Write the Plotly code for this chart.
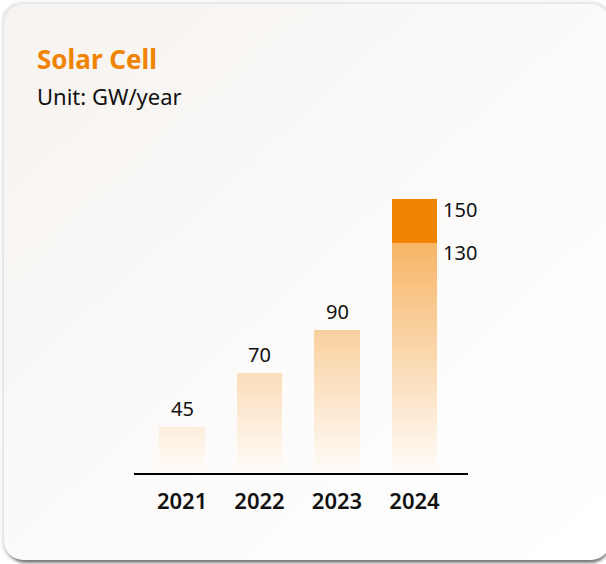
import base64
import plotly.graph_objects as go

# ---- data ----
years = ["2021", "2022", "2023", "2024"]
capacity = [45, 70, 90, 130]            # GW/year (gradient bars)
capacity_high = [None, None, None, 150]  # upper estimate for 2024
title_text = "Solar Cell"
unit_text = "Unit: GW/year"

# ---- styling ----
W, H = 606, 564
ORANGE = (240, 131, 0)
L, R, T, B = 134, 138, 150, 91
PW, PH = W - L - R, H - T - B
Y0, Y1 = 23.9, 172.8
BAR_W = 0.59


def px_x(px):
    return (px - L) / PW


def px_y(py):
    return (H - B - py) / PH


def shade(v):
    a = max(0.0, min(0.6, (v - 20) / (130 - 20) * 0.6))
    r, g, b = (round(255 - a * (255 - c)) for c in ORANGE)
    return f"rgb({r},{g},{b})"


fig = go.Figure()

# gradient bars: stacked overlapping layers, each from its level up to the value
levels = [0] + list(range(22, int(max(capacity)) + 1, 2))
for lv in levels:
    base = [lv if v > lv else None for v in capacity]
    ys = [(v - lv) if v > lv else None for v in capacity]
    fig.add_trace(go.Bar(
        x=years, y=ys, base=base, width=BAR_W,
        marker=dict(color=shade(lv + 1), line=dict(width=0)),
        hoverinfo="skip", showlegend=False,
    ))

# upper estimate segment
fig.add_trace(go.Bar(
    x=years,
    y=[(h - c) if h is not None else None for h, c in zip(capacity_high, capacity)],
    base=[c if h is not None else None for h, c in zip(capacity_high, capacity)],
    width=BAR_W,
    marker=dict(color="rgb(240,131,0)", line=dict(width=0)),
    hoverinfo="skip", showlegend=False,
))

annotations = []
label_font = dict(family="Noto Sans", size=20, color="#111111")
for i, (yr, v, hv) in enumerate(zip(years, capacity, capacity_high)):
    if hv is None:
        annotations.append(dict(x=i, y=v, text=str(v), showarrow=False,
                                xanchor="center", yanchor="bottom", yshift=3,
                                font=label_font))
    else:
        for val in (hv, v):
            annotations.append(dict(x=i + BAR_W / 2, y=val, text=str(val), showarrow=False,
                                    xanchor="left", yanchor="middle", xshift=4, yshift=-10,
                                    font=label_font))

annotations.append(dict(xref="paper", yref="paper", x=px_x(35), y=px_y(39),
                        xanchor="left", yanchor="top", showarrow=False,
                        text=f"<b>{title_text}</b>",
                        font=dict(family="Noto Sans", size=26, color="rgb(240,131,0)")))
annotations.append(dict(xref="paper", yref="paper", x=px_x(35), y=px_y(79),
                        xanchor="left", yanchor="top", showarrow=False,
                        text=unit_text,
                        font=dict(family="Noto Sans", size=22, color="#111111")))

svg = f'''<svg xmlns="http://www.w3.org/2000/svg" width="{W}" height="{H}" viewBox="0 0 {W} {H}">
<defs>
<linearGradient id="g" x1="0" y1="0" x2="1" y2="1">
<stop offset="0" stop-color="#f6f3f0"/>
<stop offset="0.55" stop-color="#fcfbfa"/>
<stop offset="1" stop-color="#ffffff"/>
</linearGradient>
<filter id="b" x="-5%" y="-5%" width="110%" height="110%"><feGaussianBlur stdDeviation="1.6"/></filter>
</defs>
<rect x="2" y="2" width="610" height="560" rx="20" fill="#e2e2e2" filter="url(#b)"/>
<rect x="6" y="7" width="604" height="556" rx="20" fill="#7d7d7d" filter="url(#b)"/>
<rect x="4" y="4" width="606" height="556" rx="19" fill="url(#g)"/>
</svg>'''
src = "data:image/svg+xml;base64," + base64.b64encode(svg.encode()).decode()

fig.update_layout(
    width=W, height=H,
    margin=dict(l=L, r=R, t=T, b=B, pad=0),
    paper_bgcolor="white", plot_bgcolor="rgba(0,0,0,0)",
    barmode="overlay", bargap=0,
    showlegend=False,
    annotations=annotations,
    images=[dict(source=src, xref="paper", yref="paper",
                 x=px_x(0), y=px_y(0), sizex=W / PW, sizey=H / PH,
                 xanchor="left", yanchor="top", sizing="stretch", layer="below")],
    xaxis=dict(type="category", range=[-0.62, 3.69], showline=True, linecolor="#000000",
               linewidth=2, showgrid=False, zeroline=False, ticks="",
               ticklabelstandoff=8,
               tickfont=dict(family="Noto Sans", size=22, color="#111111", weight=600)),
    yaxis=dict(range=[Y0, Y1], visible=False, showgrid=False, zeroline=False),
)

fig.write_html("out.html", config={"displayModeBar": False, "staticPlot": True},
               post_script="document.body.style.margin='0';document.body.style.overflow='hidden';")
